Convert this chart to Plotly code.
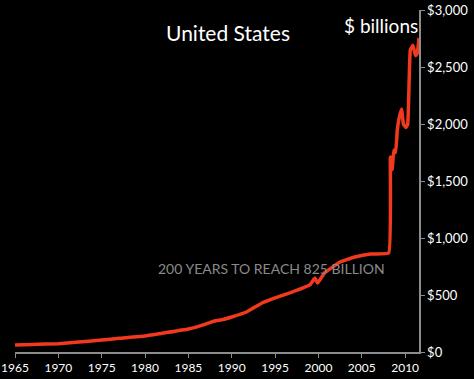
import plotly.graph_objects as go

years = [1965, 1967, 1970, 1972, 1975, 1977, 1980, 1982, 1985, 1987, 1988, 1989, 1990,
         1991.7, 1993.5, 1995, 1996.7, 1999.0, 1999.6, 1999.9, 2000.7, 2002.5, 2004.2,
         2006.0, 2008.1, 2008.3, 2008.5, 2008.7, 2008.9, 2009.1, 2009.3, 2009.6, 2009.8,
         2010.1, 2010.3, 2010.6, 2010.9, 2011.2, 2011.4, 2011.6]
values = [61, 66, 73, 85, 105, 120, 140, 165, 202, 245, 272, 285, 307,
          351, 430, 474, 518, 588, 649, 605, 693, 789, 833,
          860, 868, 1710, 1600, 1770, 1750, 1950, 2050, 2131, 2000,
          1970, 2000, 2650, 2690, 2600, 2620, 2754]
x_ticks = [1965, 1970, 1975, 1980, 1985, 1990, 1995, 2000, 2005, 2010]
y_ticks = [0, 500, 1000, 1500, 2000, 2500, 3000]
y_labels = ["$0", "$500", "$1,000", "$1,500", "$2,000", "$2,500", "$3,000"]

FONT = "Lato, 'Open Sans', sans-serif"

fig = go.Figure()
fig.add_trace(go.Scatter(x=years, y=values, mode="lines",
                         line=dict(color="#f2391e", width=3.5, shape="spline", smoothing=0.3),
                         showlegend=False, hoverinfo="skip", cliponaxis=False))

fig.update_layout(
    width=474, height=379,
    margin=dict(l=15, r=55, t=10, b=27, autoexpand=False),
    paper_bgcolor="black", plot_bgcolor="black",
    font=dict(family=FONT, color="white", size=13),
    xaxis=dict(range=[1965, 2011.6], tickvals=x_ticks, ticktext=[str(t) for t in x_ticks],
               automargin=False,
               showgrid=False, zeroline=False, showline=True, linecolor="#8c8c8c", linewidth=1.5,
               ticks="outside", ticklen=4, tickcolor="#8c8c8c", tickfont=dict(size=12, color="white")),
    yaxis=dict(range=[0, 3000], side="right", tickvals=y_ticks, ticktext=y_labels,
               automargin=False,
               showgrid=False, zeroline=False, showline=True, linecolor="#8c8c8c", linewidth=1.5,
               ticks="outside", ticklen=4, tickcolor="#8c8c8c", tickfont=dict(size=13, color="white")),
    annotations=[
        dict(text="United States", xref="paper", yref="paper", x=0.527, y=0.933,
             xanchor="center", yanchor="middle",
             showarrow=False, font=dict(size=21, color="white", family=FONT)),
        dict(text="$ billions", xref="paper", yref="paper", x=0.906, y=0.956,
             xanchor="center", yanchor="middle",
             showarrow=False, font=dict(size=19, color="white", family=FONT)),
        dict(text="200 YEARS TO REACH 825 BILLION", xref="paper", yref="paper", x=0.634, y=0.243,
             xanchor="center", yanchor="middle",
             showarrow=False, font=dict(size=14, color="#8a8a8a", family=FONT)),
    ],
)

fig.write_html("out.html", config={"displayModeBar": False, "staticPlot": True},
               post_script="document.body.style.margin='0';document.body.style.padding='0';"
                           "document.body.style.background='black';document.body.style.overflow='hidden';")
